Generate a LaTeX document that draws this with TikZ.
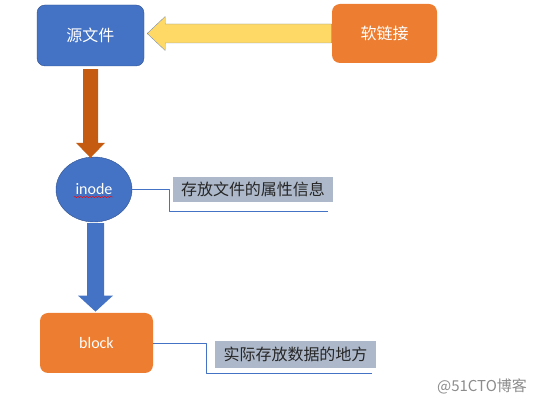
\documentclass[tikz,border=0pt]{standalone}
\usepackage{fontspec}
\setmainfont{Carlito}
\newfontfamily\cjk{Noto Sans CJK SC}
\usetikzlibrary{calc,shapes.geometric,decorations.pathmorphing}
\definecolor{boxblue}{HTML}{4472C4}
\definecolor{boxedge}{HTML}{2F528F}
\definecolor{boxorange}{HTML}{ED7D31}
\definecolor{arrowyellow}{HTML}{FFD966}
\definecolor{arrowedge}{HTML}{7A8FAE}
\definecolor{arrowbrown}{HTML}{C55A11}
\definecolor{labelgray}{HTML}{ADB9CA}
\definecolor{labeltext}{HTML}{262626}
\definecolor{markgray}{HTML}{8C8C8C}
\begin{document}
\begin{tikzpicture}[x=1pt,y=-1pt,line join=round,line cap=round,thick]
	\tikzset{every node/.style={inner sep=0pt,font=\fontsize{16}{18}\selectfont}}
	\tikzset{box/.style={rounded corners=8pt,minimum width=#1,minimum height=60pt,text=white}}
	\tikzset{note/.style={fill=labelgray,text=labeltext,minimum width=#1,font=\cjk\fontsize{16}{18}\selectfont}}
	\tikzset{callout/.style={draw=boxblue,thin,line cap=butt}}
	\useasboundingbox (0,0) rectangle (542,403);
	\node[box=107,fill=boxblue,draw=boxedge,thin,minimum height=61pt] (yuan) at (90.5,35.5) {\cjk 源文件};
	\node[box=105,fill=boxorange,minimum height=59pt] (ruan) at (384.5,33.5) {\cjk 软链接};
	\node[ellipse,fill=boxblue,draw=boxedge,thin,minimum width=76pt,minimum height=65pt,text=white] (inode) at (94,189.5) {inode};
	\node[box=113,fill=boxorange] (block) at (96.5,343) {block};
	\node[note=160,minimum height=25pt] (lab1) at (253,189.5) {存放文件的属性信息};
	\node[note=161,minimum height=27pt] (lab2) at (295.5,354.5) {实际存放数据的地方};
	\node[text=markgray,font=\cjk\fontsize{15}{17}\selectfont] (mark) at (482,386) {@51CTO博客};
	% block arrows
	\coordinate (ytip) at ($(yuan.east |- ruan.west)+(3,0)$);
	\filldraw[fill=arrowyellow,draw=arrowedge,thin] ($(ruan.west)+(0,-9.5)$) -- ($(ytip)+(18,-9.5)$) -- ($(ytip)+(18,-17)$) -- (ytip)
		-- ($(ytip)+(18,17)$) -- ($(ytip)+(18,9.5)$) -- ($(ruan.west)+(0,9.5)$) -- cycle;
	\coordinate (btip) at ($(yuan.south |- inode.north)+(0,1)$);
	\fill[arrowbrown] ($(yuan.south)+(-7.5,3)$) -- ($(btip)+(-7.5,-15)$) -- ($(btip)+(-14.5,-15)$) -- (btip)
		-- ($(btip)+(14.5,-15)$) -- ($(btip)+(7.5,-15)$) -- ($(yuan.south)+(7.5,3)$) -- cycle;
	\coordinate (ltip) at ($(block.north)+(-1,-1)$);
	\fill[boxblue] ($(ltip |- inode.south)+(-8.5,1)$) -- ($(ltip)+(-8.5,-16)$) -- ($(ltip)+(-17.5,-16)$) -- (ltip)
		-- ($(ltip)+(17.5,-16)$) -- ($(ltip)+(8.5,-16)$) -- ($(ltip |- inode.south)+(8.5,1)$) -- cycle;
	% callout lines
	\coordinate (c1) at ($(lab1.south east)+(-5,9)$);
	\coordinate (c2) at ($(lab2.south east)+(-4,5)$);
	\draw[callout] (inode.east) -- ++(37,0) |- (c1);
	\draw[callout] (block.east) -- ++(53,0) |- (c2);
	\draw[red,thin,decorate,decoration={snake,amplitude=0.8pt,segment length=3pt}] ($(inode.center)+(-20,7.5)$) -- ($(inode.center)+(19,7.5)$);
\end{tikzpicture}
\end{document}
